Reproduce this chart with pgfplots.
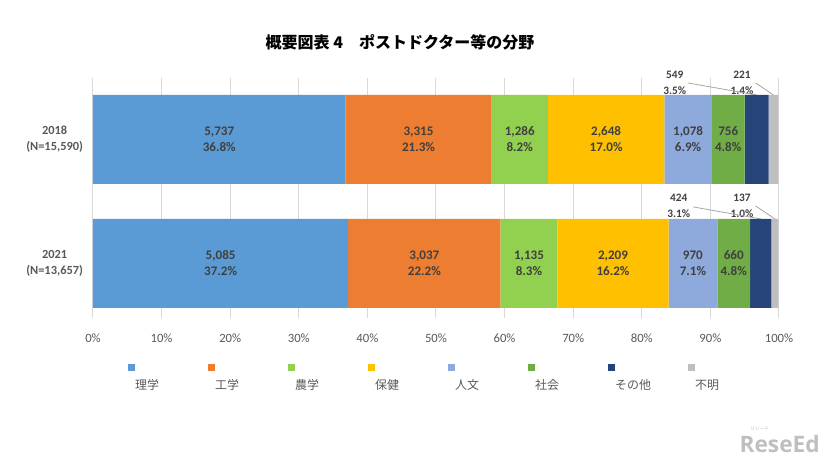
\documentclass[border=0pt]{standalone}
\usepackage{fontspec}
\setmainfont{Carlito}
\newfontfamily\jp{Noto Sans CJK JP}
\newfontfamily\logofont{Open Sans}
\usepackage{pgfplots}
\usepackage{pgfplotstable}
\pgfplotsset{compat=1.18}
\pgfkeys{/pgf/number format/assume math mode=true}
\definecolor{cRi}{HTML}{5B9BD5}
\definecolor{cKo}{HTML}{ED7D31}
\definecolor{cNo}{HTML}{92D050}
\definecolor{cHo}{HTML}{FFC000}
\definecolor{cJi}{HTML}{8EA9DB}
\definecolor{cSh}{HTML}{70AD47}
\definecolor{cSo}{HTML}{264478}
\definecolor{cFu}{HTML}{BFBFBF}
\definecolor{txt}{HTML}{404040}
\definecolor{tick}{HTML}{595959}
\definecolor{grid}{HTML}{D9D9D9}
\pgfplotstableread{
y ri rin ko kon no non ho hon ji jin sha shan so son fu fun
1 36.8 5737 21.3 3315 8.2 1286 17.0 2648 6.9 1078 4.8 756 3.5 549 1.4 221
0 37.2 5085 22.2 3037 8.3 1135 16.2 2209 7.1 970 4.8 660 3.1 424 1.0 137
}\data
\pgfplotsset{
  ser/.style={fill=#1, draw=none,
    legend image code/.code={\fill[##1] (-1.5pt,10.9pt) rectangle (3.75pt,16.1pt);}},
  lab/.style={
    visualization depends on={\thisrow{#1}\as\pct},
    point meta=\thisrow{#1n},
    nodes near coords={\pgfmathprintnumber[fixed,precision=0,1000 sep={,},assume math mode=true]{\pgfplotspointmeta}\\\pgfmathprintnumber[fixed,fixed zerofill,precision=1,assume math mode=true]{\pct}\%},
    every node near coord/.append style={anchor=center, align=center,
      font=\bfseries\fontsize{9.8}{12}\selectfont, text=txt}
  }
}
\begin{document}
\begin{tikzpicture}
\useasboundingbox (-69.75pt,-109.5pt) rectangle (549.75pt,238.5pt);
\begin{axis}[
  at={(0pt,0pt)}, anchor=south west,
  scale only axis, width=514.5pt, height=180pt,
  xbar stacked, bar width=66.75pt,
  xmin=0, xmax=100, ymin=-0.44, ymax=1.496,
  xtick={0,10,...,100},
  /pgf/number format/assume math mode=true,
  xticklabel={\pgfmathprintnumber[assume math mode=true]{\tick}\%},
  xticklabel style={font=\fontsize{9.5}{11}\selectfont, text=tick, yshift=-8pt},
  ytick={0,1},
  yticklabels={{2021\\(N=13,657)},{2018\\(N=15,590)}},
  yticklabel style={align=center, font=\bfseries\fontsize{9.3}{12}\selectfont, text=tick, xshift=-4pt},
  xmajorgrids, major grid style={draw=grid, line width=0.75pt},
  axis line style={draw=none}, tick style={draw=none},
  clip=false,
  legend columns=8,
  legend style={draw=none, fill=none, at={(0.051,-0.19)}, anchor=north west,
    column sep=0pt, inner sep=0pt, nodes={inner sep=0pt},
    font=\jp\fontsize{9}{11}\selectfont, text=tick},
  legend cell align=left,
]
\addplot[ser=cRi, lab=ri] table[x=ri, y=y] {\data};
\addlegendentry{\makebox[54.75pt][l]{理学}}
\addplot[ser=cKo, lab=ko] table[x=ko, y=y] {\data};
\addlegendentry{\makebox[54.75pt][l]{工学}}
\addplot[ser=cNo, lab=no] table[x=no, y=y] {\data};
\addlegendentry{\makebox[54.75pt][l]{農学}}
\addplot[ser=cHo, lab=ho] table[x=ho, y=y] {\data};
\addlegendentry{\makebox[54.75pt][l]{保健}}
\addplot[ser=cJi, lab=ji] table[x=ji, y=y] {\data};
\addlegendentry{\makebox[54.75pt][l]{人文}}
\addplot[ser=cSh, lab=sha] table[x=sha, y=y] {\data};
\addlegendentry{\makebox[54.75pt][l]{社会}}
\addplot[ser=cSo] table[x=so, y=y] {\data};
\addlegendentry{\makebox[54.75pt][l]{その他}}
\addplot[ser=cFu] table[x=fu, y=y] {\data};
\addlegendentry{\makebox[54.75pt][l]{不明}}
% callouts for small segments
\draw[gray!70, line width=0.6pt] (axis cs:86.7,1.456) -- (axis cs:96.75,1.359);
\draw[gray!70, line width=0.6pt] (axis cs:96.6,1.456) -- (axis cs:99.2,1.359);
\draw[gray!70, line width=0.6pt] (axis cs:87.5,0.456) -- (axis cs:97.35,0.359);
\draw[gray!70, line width=0.6pt] (axis cs:96.6,0.464) -- (axis cs:99.4,0.359);
\node[align=center, font=\bfseries\fontsize{8.5}{12}\selectfont, text=txt] at (axis cs:84.8,1.456) {549\\3.5\%};
\node[align=center, font=\bfseries\fontsize{8.5}{12}\selectfont, text=txt] at (axis cs:94.6,1.456) {221\\1.4\%};
\node[align=center, font=\bfseries\fontsize{8.5}{12}\selectfont, text=txt] at (axis cs:85.4,0.464) {424\\3.1\%};
\node[align=center, font=\bfseries\fontsize{8.5}{12}\selectfont, text=txt] at (axis cs:94.6,0.464) {137\\1.0\%};
\end{axis}
\node[font=\jp\bfseries\fontsize{12}{14}\selectfont] at (230.25pt,207pt) {概要図表 4　ポストドクター等の分野};
\node[font=\logofont\bfseries\fontsize{17}{18}\selectfont, text=gray!50] at (515pt,-94.5pt) {ReseEd};
\node[font=\jp\fontsize{3.5}{4}\selectfont, text=gray!55] at (500pt,-83pt) {リシード};
\end{tikzpicture}
\end{document}
